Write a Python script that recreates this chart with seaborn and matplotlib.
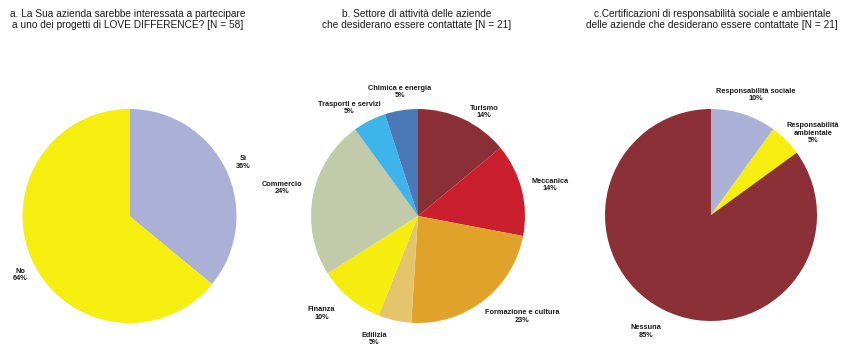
import matplotlib
matplotlib.use("Agg")
import matplotlib.pyplot as plt
import seaborn as sns

# --- data -------------------------------------------------------------
titles = [
    "a. La Sua azienda sarebbe interessata a partecipare\na uno dei progetti di LOVE DIFFERENCE? [N = 58]",
    "b. Settore di attività delle aziende\nche desiderano essere contattate [N = 21]",
    "c.Certificazioni di responsabilità sociale e ambientale\ndelle aziende che desiderano essere contattate [N = 21]",
]

a_labels = ["Sì", "No"]
a_values = [36, 64]

b_labels = ["Turismo", "Meccanica", "Formazione e cultura", "Edilizia",
            "Finanza", "Commercio", "Trasporti e servizi", "Chimica e energia"]
b_values = [14, 14, 23, 5, 10, 24, 5, 5]

c_labels = ["Responsabilità sociale", "Responsabilità\nambientale", "Nessuna"]
c_values = [10, 5, 85]

# --- styling ----------------------------------------------------------
sns.set_theme(style="white")
plt.rcParams["font.family"] = ["Liberation Sans", "DejaVu Sans"]

a_colors = ["#aab0d6", "#f6ee0e"]
b_colors = ["#8b2f36", "#ca1f2e", "#e1a229", "#e5c56b",
            "#f6ec0e", "#c1cba9", "#3eb5ea", "#4b79b8"]
c_colors = ["#aab0d6", "#f6ee0e", "#8b3037"]

# label anchor points, in units of the pie radius
a_pos = [(1.06, 0.50), (-1.02, -0.55)]
b_pos = [(0.62, 0.97), (1.23, 0.29), (0.97, -0.94), (-0.41, -1.15),
         (-0.90, -0.91), (-1.27, 0.26), (-0.64, 1.01), (-0.17, 1.16)]
c_pos = [(0.42, 1.13), (0.96, 0.77), (-0.61, -1.10)]

W, H = 842, 346
fig = plt.figure(figsize=(W / 100, H / 100), dpi=100)
fig.patch.set_facecolor("white")

# pie centres and radius in pixels (from top-left)
pies = [
    ((129.5, 216), 107, a_labels, a_values, a_colors, a_pos),
    ((418, 216), 107, b_labels, b_values, b_colors, b_pos),
    ((711, 215), 106, c_labels, c_values, c_colors, c_pos),
]

for (cx, cy), r, labels, values, colors, pos in pies:
    ax = fig.add_axes([(cx - r) / W, (H - cy - r) / H, 2 * r / W, 2 * r / H])
    ax.pie(values, colors=colors, startangle=90, counterclock=False,
           radius=1.0, wedgeprops=dict(linewidth=0))
    ax.set_xlim(-1, 1)
    ax.set_ylim(-1, 1)
    ax.set_aspect("auto")
    ax.axis("off")
    for lab, val, (x, y) in zip(labels, values, pos):
        ax.text(x, y, f"{lab}\n{val}%", ha="center", va="center",
                fontsize=5.3, fontweight="bold", color="#1a1a1a",
                linespacing=1.1, clip_on=False)

title_x = [128, 417, 712]
for t, x in zip(titles, title_x):
    fig.text(x / W, 1 - 19.5 / H, t, ha="center", va="center",
             fontsize=7.3, color="#1a1a1a", linespacing=1.1)

fig.savefig("out.png", dpi=100, facecolor="white")
